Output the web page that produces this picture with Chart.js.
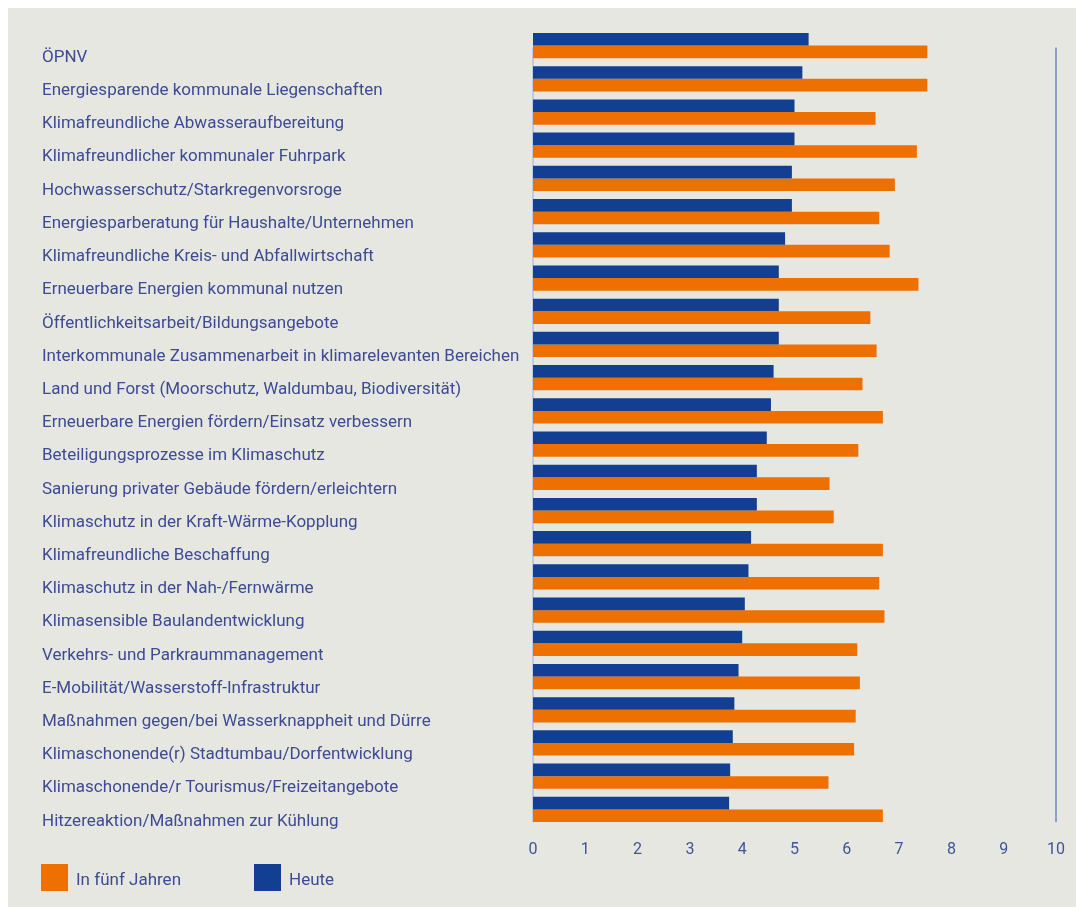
<!DOCTYPE html>
<html>
<head>
<meta charset="utf-8">
<script src="https://cdn.jsdelivr.net/npm/chart.js"></script>
<style>
  body { margin: 0; background: #fff; }
  #wrap { position: absolute; left: 8px; top: 8px; width: 1068px; height: 899px; background: #e7e7e2; }
  #legend { position: absolute; left: 0; top: 856px; font-family: Roboto, sans-serif; font-size: 17px; color: #3c4b94; }
  .item { position: absolute; top: 0; height: 27px; line-height: 27px; white-space: nowrap; }
  .box { position: absolute; left: 0; top: 0; width: 27px; height: 27px; }
  .item span { position: absolute; left: 35px; top: 2px; }
</style>
</head>
<body>
<div id="wrap">
  <canvas id="myChart" width="1068" height="899"></canvas>
  <div id="legend">
    <div class="item" style="left:33px"><div class="box" style="background:#ee7100"></div><span>In fünf Jahren</span></div>
    <div class="item" style="left:246px"><div class="box" style="background:#123f91"></div><span>Heute</span></div>
  </div>
</div>
<script>
const ctx1 = document.getElementById("myChart");

const categories = [
  "ÖPNV",
  "Energiesparende kommunale Liegenschaften",
  "Klimafreundliche Abwasseraufbereitung",
  "Klimafreundlicher kommunaler Fuhrpark",
  "Hochwasserschutz/Starkregenvorsroge",
  "Energiesparberatung für Haushalte/Unternehmen",
  "Klimafreundliche Kreis- und Abfallwirtschaft",
  "Erneuerbare Energien kommunal nutzen",
  "Öffentlichkeitsarbeit/Bildungsangebote",
  "Interkommunale Zusammenarbeit in klimarelevanten Bereichen",
  "Land und Forst (Moorschutz, Waldumbau, Biodiversität)",
  "Erneuerbare Energien fördern/Einsatz verbessern",
  "Beteiligungsprozesse im Klimaschutz",
  "Sanierung privater Gebäude fördern/erleichtern",
  "Klimaschutz in der Kraft-Wärme-Kopplung",
  "Klimafreundliche Beschaffung",
  "Klimaschutz in der Nah-/Fernwärme",
  "Klimasensible Baulandentwicklung",
  "Verkehrs- und Parkraummanagement",
  "E-Mobilität/Wasserstoff-Infrastruktur",
  "Maßnahmen gegen/bei Wasserknappheit und Dürre",
  "Klimaschonende(r) Stadtumbau/Dorfentwicklung",
  "Klimaschonende/r Tourismus/Freizeitangebote",
  "Hitzereaktion/Maßnahmen zur Kühlung",
];

const heute = [
  5.27, 5.15, 5.0, 5.0, 4.95, 4.95, 4.82, 4.7, 4.7, 4.7, 4.6, 4.55,
  4.47, 4.28, 4.28, 4.17, 4.12, 4.05, 4.0, 3.93, 3.85, 3.82, 3.77, 3.75,
];

const inFuenfJahren = [
  7.54, 7.54, 6.55, 7.34, 6.92, 6.62, 6.82, 7.37, 6.45, 6.57, 6.3, 6.69,
  6.22, 5.67, 5.75, 6.69, 6.62, 6.72, 6.2, 6.25, 6.17, 6.14, 5.65, 6.69,
];

const xTicks = [0, 1, 2, 3, 4, 5, 6, 7, 8, 9, 10];

// senkrechte Linien bei 0 und 10
const axisLines = {
  id: "axisLines",
  beforeDatasetsDraw: (chart) => {
    const { ctx, scales } = chart;
    const top = scales.y.getPixelForValue(0) + 2;
    const bottom = chart.chartArea.bottom - 4;
    ctx.save();
    ctx.lineWidth = 1.5;
    ctx.strokeStyle = "#b7c1de";
    let px = scales.x.getPixelForValue(xTicks[0]);
    ctx.beginPath();
    ctx.moveTo(px, top);
    ctx.lineTo(px, bottom);
    ctx.stroke();
    ctx.strokeStyle = "#6f86c2";
    px = scales.x.getPixelForValue(xTicks[xTicks.length - 1]);
    ctx.beginPath();
    ctx.moveTo(px, top);
    ctx.lineTo(px, bottom);
    ctx.stroke();
    ctx.restore();
  },
};

new Chart(ctx1, {
  type: "bar",
  data: {
    labels: categories,
    datasets: [
      {
        label: "Heute",
        data: heute,
        backgroundColor: "#123f91",
      },
      {
        label: "In fünf Jahren",
        data: inFuenfJahren,
        backgroundColor: "#ee7100",
      },
    ],
  },
  options: {
    indexAxis: "y",
    responsive: false,
    animation: false,
    layout: {
      padding: { left: 34, right: 20, top: 21, bottom: 0 },
    },
    datasets: {
      bar: {
        barPercentage: 1,
        categoryPercentage: 0.76,
      },
    },
    plugins: {
      legend: { display: false },
      tooltip: { enabled: false },
    },
    scales: {
      x: {
        min: 0,
        max: 10,
        afterBuildTicks: (scale) => {
          scale.ticks = xTicks.map((v) => ({ value: v }));
        },
        afterFit: (scale) => {
          scale.height = 81;
        },
        grid: { display: false },
        border: { display: false },
        ticks: {
          padding: 6,
          color: "#3d5599",
          font: { family: "Roboto", size: 16 },
        },
      },
      y: {
        afterFit: (scale) => {
          scale.width = 491;
        },
        grid: { display: false },
        border: { display: false },
        ticks: {
          autoSkip: false,
          crossAlign: "far",
          labelOffset: 12,
          color: "#3c4b94",
          font: { family: "Roboto", size: 17 },
        },
      },
    },
  },
  plugins: [axisLines],
});
</script>
</body>
</html>
